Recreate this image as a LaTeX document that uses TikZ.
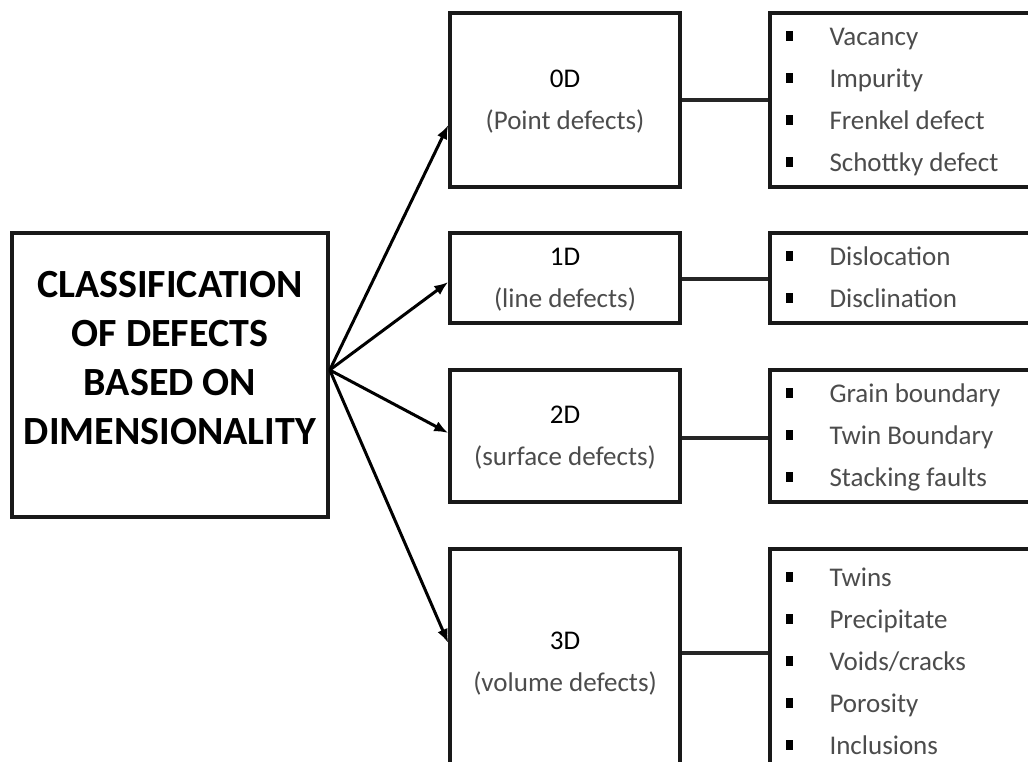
\documentclass[tikz,border=0pt]{standalone}
\usepackage{fontspec}
\setmainfont{Carlito}
\usetikzlibrary{arrows.meta}
\newcommand\stru{\rule[-8pt]{0pt}{32pt}}
\newcommand\itm[1]{\stru\makebox[43.5pt][l]{\raisebox{4pt}{\color{black}\rule{7pt}{10pt}}}#1}
\begin{document}
\begin{tikzpicture}[x=1pt,y=-1pt,
  box/.style={draw=black!90, line width=3.5pt, fill=white, inner sep=0pt},
  catbox/.style={box, minimum width=230pt, align=center, text=black!70,
    font=\fontsize{27}{42}\selectfont},
  listbox/.style={box, minimum width=275pt, text width=243pt, inner xsep=16pt,
    align=flush left, text=black!70, font=\fontsize{27}{42}\selectfont},
  arr/.style={line width=3pt, -{Latex[length=14pt,width=11pt]}},
  conn/.style={line width=3.5pt, draw=black!85}]
\useasboundingbox (0,0) rectangle (1028,761);
\fill[white] (0,0) rectangle (1028,761);
\clip (0,0) rectangle (1028,761);

% main box
\node[box, minimum width=316pt, minimum height=284pt] (main) at (170,375) {};
\node[font=\fontsize{40}{48.7}\selectfont\bfseries, align=center, text=black]
  (maintext) at ([yshift=17pt]main.center)
  {CLASSIFICATION\\OF DEFECTS\\BASED ON\\DIMENSIONALITY};

% category boxes
\node[catbox, minimum height=174pt] (zero) at (565,100)
  {\stru{\color{black}0D}\\\stru(Point defects)};
\node[catbox, minimum height=90pt] (one) at (565,278)
  {\stru{\color{black}1D}\\\stru(line defects)};
\node[catbox, minimum height=132pt] (two) at (565,436)
  {\stru{\color{black}2D}\\\stru(surface defects)};
\node[catbox, minimum height=226pt] (three) at (565,662)
  {\stru{\color{black}3D}\\\stru(volume defects)};

% list boxes
\node[listbox, minimum height=174pt] (zerolist) at (907.5,100)
  {\itm{Vacancy}\\\itm{Impurity}\\\itm{Frenkel defect}\\\itm{Schottky defect}};
\node[listbox, minimum height=90pt] (onelist) at (907.5,278)
  {\itm{Dislocation}\\\itm{Disclination}};
\node[listbox, minimum height=132pt] (twolist) at (907.5,436)
  {\itm{Grain boundary}\\\itm{Twin Boundary}\\\itm{Stacking faults}};
\node[listbox, minimum height=226pt] (threelist) at (907.5,662)
  {\itm{Twins}\\\itm{Precipitate}\\\itm{Voids/cracks}\\\itm{Porosity}\\\itm{Inclusions}};

% arrows
\coordinate (hub) at ([yshift=5pt]main.east);
\draw[arr] (hub) -- ([yshift=-25pt]zero.west);
\draw[arr] (hub) -- ([yshift=-4pt]one.west);
\draw[arr] (hub) -- ([yshift=3pt]two.west);
\draw[arr] (hub) -- ([yshift=19pt]three.west);

% connectors
\draw[conn] (zero.east) -- (zerolist.west);
\draw[conn] ([yshift=-1pt]one.east) -- ([yshift=-1pt]onelist.west);
\draw[conn] ([yshift=-2pt]two.east) -- ([yshift=-2pt]twolist.west);
\draw[conn] ([yshift=9pt]three.east) -- ([yshift=9pt]threelist.west);
\end{tikzpicture}
\end{document}
